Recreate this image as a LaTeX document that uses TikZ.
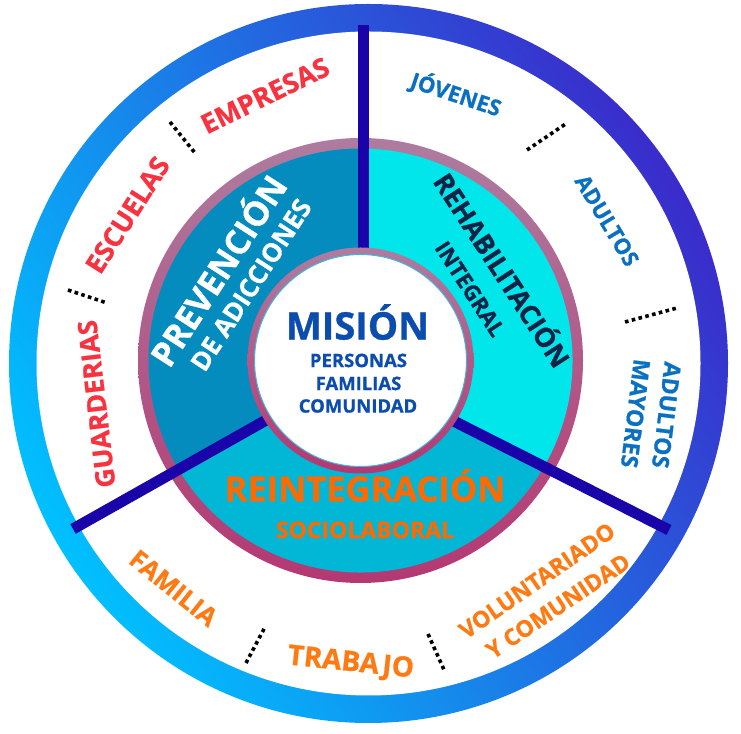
\documentclass[tikz,border=0pt]{standalone}
\usepackage{fontspec}
\setmainfont{Open Sans}[BoldFeatures={FakeBold=0.8}]
\definecolor{ringA}{HTML}{00C0FF}
\definecolor{ringB}{HTML}{0062E4}
\definecolor{ringC}{HTML}{3A2CCB}
\definecolor{purA}{HTML}{AE7CA0}
\definecolor{purB}{HTML}{B43872}
\definecolor{prevc}{HTML}{058CBE}
\definecolor{rehabc}{HTML}{00E6EA}
\definecolor{reintc}{HTML}{02B6D6}
\definecolor{navy}{HTML}{1A03A8}
\definecolor{misb}{HTML}{0B4CAF}
\definecolor{rehabt}{HTML}{0E2446}
\definecolor{redc}{HTML}{F8323F}
\definecolor{bluec}{HTML}{0A70C2}
\definecolor{oraA}{HTML}{FF6A00}
\definecolor{oraB}{HTML}{FF7A12}
\definecolor{edgec}{HTML}{40B8DA}
\begin{document}
\begin{tikzpicture}[x=1pt,y=1pt,
  txt/.style={inner sep=0pt, font=\bfseries\fontsize{#1}{#1}\selectfont, text height={0.714*#1pt}, text depth=0pt},
  sepline/.style={line width=3.6pt, dash pattern=on 3.6pt off 3.4pt, black},
  divider/.style={line width=11pt, navy}]
\useasboundingbox (0,0) rectangle (741,733);
\fill[white] (0,0) rectangle (741,733);
\coordinate (O) at (368.5,369.5);
\coordinate (C) at (360.5,372.5);
% outer ring
\shade[left color=ringA, middle color=ringB, right color=ringC, shading angle=120] (O) circle[radius=359.5];
\fill[white] (O) circle[radius=332];
% middle ring
\shade[top color=purA, bottom color=purB] (C) circle[radius=222.5];
\fill[prevc] (C) -- ++(90:212) arc[start angle=90,end angle=210,radius=212] -- cycle;
\fill[reintc] (C) -- ++(210:212) arc[start angle=210,end angle=330,radius=212] -- cycle;
\fill[rehabc] (C) -- ++(-30:212) arc[start angle=-30,end angle=90,radius=212] -- cycle;
% dividers
\coordinate (v1) at (363,708);
\coordinate (v2) at (363,430);
\coordinate (l1) at (73,204);
\coordinate (l2) at (300,332);
\coordinate (r1) at (669,203);
\coordinate (r2) at (420,329);
\draw[divider] (v1) -- (v2);
\draw[divider] (l1) -- (l2);
\draw[divider] (r1) -- (r2);
% inner circle
\shade[top color=purA, bottom color=purB] (C) circle[radius=113];
\fill[white] (C) circle[radius=106];
\draw[edgec, line width=1pt] (C) circle[radius=106];
% centre texts
\node[txt=38, text=misb] (mision) at (357.5,407) {MISIÓN};
\node[txt=18.5, text=misb] (personas) at (358.5,372.5) {PERSONAS};
\node[txt=18.5, text=misb] (familias) at (358.5,349.5) {FAMILIAS};
\node[txt=18.5, text=misb] (comunidad) at (358,327) {COMUNIDAD};
% middle ring texts
\node[txt=34, text=white, rotate=57] (prev) at (219,462) {PREVENCIÓN};
\node[txt=26, text=white, rotate=57] (adic) at (251,448) {DE ADICCIONES};
\node[txt=27, text=rehabt, rotate=-57] (rehab) at (501.5,462.5) {REHABILITACIÓN};
\node[txt=22, text=rehabt, rotate=-57] (integral) at (470,444) {INTEGRAL};
\node[txt=34.5, text=oraA] (reint) at (365,244) {REINTEGRACIÓN};
\node[txt=23, text=oraA] (socio) at (365,203) {SOCIOLABORAL};
% outer band texts
\node[txt=27, text=redc, rotate=26] (empresas) at (265,637.5) {EMPRESAS};
\node[txt=27, text=redc, rotate=57.5] (escuelas) at (127.5,518) {ESCUELAS};
\node[txt=26.5, text=redc, rotate=96.6] (guarderias) at (96.5,329) {GUARDERIAS};
\node[txt=22, text=bluec, rotate=-18.4] (jovenes) at (456,638.5) {JÓVENES};
\node[txt=22, text=bluec, rotate=-59] (adultos) at (607,512.5) {ADULTOS};
\node[txt=23, text=bluec, rotate=-97] (adultos2) at (666.5,318) {ADULTOS};
\node[txt=23, text=bluec, rotate=-97] (mayores) at (635.5,319.5) {MAYORES};
\node[txt=25.5, text=oraB, rotate=-39] (familia) at (173.5,145) {FAMILIA};
\node[txt=28, text=oraB, rotate=-6] (trabajo) at (351,72) {TRABAJO};
\node[txt=23, text=oraB, rotate=34.8] (volunt) at (537,152.5) {VOLUNTARIADO};
\node[txt=23, text=oraB, rotate=34] (ycom) at (558,127) {Y COMUNIDAD};
% dotted separators
\coordinate (s1a) at (170,611); \coordinate (s1b) at (195,580);
\coordinate (s2a) at (68,443);  \coordinate (s2b) at (107,430);
\coordinate (s3a) at (527,583); \coordinate (s3b) at (567,610);
\coordinate (s4a) at (625,411); \coordinate (s4b) at (677,425);
\coordinate (s5a) at (246,70);  \coordinate (s5b) at (265,106);
\coordinate (s6a) at (428,99);  \coordinate (s6b) at (445,61);
\draw[sepline] (s1a) -- (s1b);
\draw[sepline] (s2a) -- (s2b);
\draw[sepline] (s3a) -- (s3b);
\draw[sepline] (s4a) -- (s4b);
\draw[sepline] (s5a) -- (s5b);
\draw[sepline] (s6a) -- (s6b);
\end{tikzpicture}
\end{document}
